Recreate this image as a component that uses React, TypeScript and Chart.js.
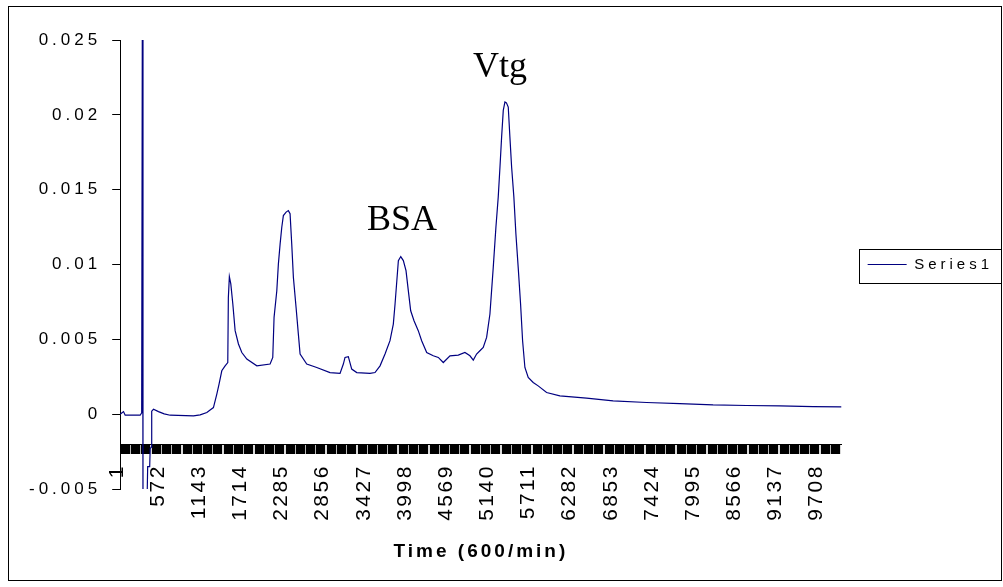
import React, { useEffect, useRef } from 'react';
import { Chart, registerables } from 'chart.js';

Chart.register(...registerables);

// ---- data ----
const timeValues = [
  1, 47, 70, 278, 299, 309, 317, 371, 382, 410, 417, 431, 438, 463, 532, 611, 694, 1017, 1110, 1203,
  1248, 1294, 1341, 1372, 1410, 1456, 1493, 1501, 1515, 1535, 1563, 1595, 1641, 1688, 1757, 1896, 2080, 2117,
  2135, 2173, 2195, 2219, 2242, 2264, 2302, 2333, 2357, 2380, 2403, 2440, 2472, 2496, 2588, 2727, 2911, 3050,
  3096, 3119, 3165, 3212, 3282, 3466, 3535, 3605, 3674, 3743, 3789, 3813, 3859, 3892, 3928, 3965, 3997, 4030,
  4076, 4135, 4182, 4252, 4343, 4413, 4482, 4575, 4690, 4782, 4852, 4898, 4944, 4990, 5036, 5083, 5129, 5175,
  5212, 5244, 5268, 5291, 5314, 5337, 5358, 5383, 5406, 5430, 5461, 5489, 5521, 5554, 5582, 5614, 5660, 5729,
  5798, 5915, 6099, 6469, 6838, 7301, 7763, 8224, 8687, 9148, 9610, 10004,
];
const series1 = [
  0, 0.00017, -0.00007, -0.00007, 0.00009, 0.03, -0.0065, -0.0065, -0.0035, -0.0035, -0.0023, -0.0022, 0.0002,
  0.00033, 0.00017, 0.00002, -0.00007, -0.00011, -0.00005, 0.00011,
  0.00028, 0.00044, 0.00134, 0.002, 0.0029, 0.00323, 0.00345, 0.0078, 0.00919, 0.0087, 0.00736, 0.00558,
  0.00469, 0.00412, 0.00368, 0.00323, 0.00335, 0.00379,
  0.00647, 0.00825, 0.01004, 0.01138, 0.01249, 0.01327, 0.0135, 0.0136, 0.01339, 0.01138, 0.00914, 0.00714,
  0.00535, 0.00402, 0.00335, 0.00312, 0.00278, 0.00272,
  0.00335, 0.00379, 0.00384, 0.00301, 0.00278, 0.00272, 0.00278, 0.00323, 0.00402, 0.00491, 0.00602, 0.00736,
  0.01026, 0.01053, 0.01026, 0.00959, 0.00825, 0.00691,
  0.00624, 0.00558, 0.00491, 0.00412, 0.0039, 0.00379, 0.00345, 0.0039, 0.00395, 0.00412, 0.0039, 0.00361,
  0.00402, 0.00424, 0.00446, 0.00513, 0.00669, 0.00981,
  0.01249, 0.0145, 0.0165, 0.01851, 0.0203, 0.02086, 0.0208, 0.02052, 0.01851, 0.0165, 0.0145, 0.01205,
  0.00981, 0.00736, 0.00491, 0.00312, 0.00245, 0.00212,
  0.00189, 0.00145, 0.00122, 0.00107, 0.00089, 0.00078, 0.00071, 0.00062, 0.00058, 0.00056, 0.00051, 0.00049,
];
const timeTickLabels = [
  '1', '572', '1143', '1714', '2285', '2856', '3427', '3998', '4569', '5140', '5711', '6282', '6853', '7424',
  '7995', '8566', '9137', '9708',
];
const timeTickStep = 571;
const tickMarksPerLabel = 4;
const xMin = 1;
const xMax = 10007;
const yTickValues = [-0.005, 0, 0.005, 0.01, 0.015, 0.02, 0.025];
const yTickLabels = ['-0.005', '0', '0.005', '0.01', '0.015', '0.02', '0.025'];
const xAxisCrossValue = -0.002;
const annotationLabels = ['BSA', 'Vtg'];
const annotationX = [3424, 4894];
const annotationY = [0.0123, 0.0225];
const seriesName = 'Series1';
const axisTitle = 'Time (600/min)';

const SANS = '"Liberation Sans", Arial, sans-serif';
const SERIF = '"Liberation Serif", "Times New Roman", serif';

function buildTimeTicks() {
  const out: { value: number }[] = [];
  const q = timeTickStep / tickMarksPerLabel;
  const count = timeTickLabels.length * tickMarksPerLabel - 2;
  for (let k = 0; k < count; k++) out.push({ value: xMin + (k + 0.5) * q });
  return out;
}

const spacingPlugin = {
  id: 'letterSpacingPlugin',
  beforeUpdate(chart: any) {
    chart.ctx.letterSpacing = '4px';
  },
  beforeLayout(chart: any) {
    const sx: any = chart.scales.x;
    if (sx && !sx.__wrapped) {
      sx.__wrapped = true;
      const ctx = chart.ctx;
      const wrap = (name: string, sp: string) => {
        const orig = sx[name];
        sx[name] = function (...args: any[]) {
          const prev = ctx.letterSpacing;
          ctx.letterSpacing = sp;
          try {
            return orig.apply(this, args);
          } finally {
            ctx.letterSpacing = prev;
          }
        };
      };
      wrap('update', '2.5px');
      wrap('drawLabels', '2.5px');
      wrap('drawTitle', '3px');
    }
  },
  beforeDraw(chart: any) {
    chart.ctx.letterSpacing = '4px';
  },
};

const annotationPlugin = {
  id: 'peakLabels',
  afterDatasetsDraw(chart: any) {
    const { ctx, scales } = chart;
    ctx.save();
    ctx.letterSpacing = '0px';
    ctx.font = `36px ${SERIF}`;
    ctx.fillStyle = '#000';
    ctx.textAlign = 'left';
    ctx.textBaseline = 'alphabetic';
    annotationLabels.forEach((t, i) => {
      ctx.fillText(t, scales.x.getPixelForValue(annotationX[i]), scales.y.getPixelForValue(annotationY[i]));
    });
    ctx.restore();
  },
};

const legendFramePlugin = {
  id: 'legendFrame',
  afterDraw(chart: any) {
    const hb = chart.legend && chart.legend.legendHitBoxes && chart.legend.legendHitBoxes[0];
    if (!hb) return;
    const ctx = chart.ctx;
    ctx.save();
    ctx.strokeStyle = '#000';
    ctx.lineWidth = 1;
    const l = Math.round(hb.left - 9) + 0.5;
    const t = Math.round(hb.top - 8.5) + 0.5;
    const r = chart.width - 1.5;
    const b = Math.round(hb.top + hb.height + 10.5) + 0.5;
    ctx.strokeRect(l, t, r - l, b - t);
    ctx.restore();
  },
};

export default function App() {
  const ref = useRef<HTMLCanvasElement | null>(null);

  useEffect(() => {
    const canvas = ref.current;
    if (!canvas) return;
    const chart = new Chart(canvas, {
      type: 'line',
      data: {
        datasets: [
          {
            label: seriesName,
            data: timeValues.map((x, i) => ({ x, y: series1[i] })),
            borderColor: '#000080',
            backgroundColor: '#000080',
            borderWidth: 1.2,
            pointRadius: 0,
            pointStyle: 'line',
            tension: 0,
            fill: false,
          },
        ],
      },
      options: {
        animation: false,
        responsive: false,
        maintainAspectRatio: false,
        events: [],
        layout: { padding: { left: 18, top: 40, right: 0, bottom: 98 } },
        plugins: {
          legend: {
            position: 'right',
            labels: {
              usePointStyle: true,
              pointStyleWidth: 39,
              padding: 26,
              color: '#000',
              font: { family: SANS, size: 15 },
            },
          },
          tooltip: { enabled: false },
        },
        scales: {
          x: {
            type: 'linear',
            min: xMin,
            max: xMax,
            position: { y: xAxisCrossValue },
            afterBuildTicks: (axis: any) => {
              axis.ticks = buildTimeTicks();
            },
            ticks: {
              autoSkip: false,
              minRotation: 90,
              maxRotation: 90,
              padding: 11,
              labelOffset: -8.6,
              color: '#000',
              font: { family: SANS, size: 21 },
              callback: (_v: any, i: number) =>
                i % tickMarksPerLabel === 0 ? timeTickLabels[i / tickMarksPerLabel] : '',
            },
            grid: {
              drawOnChartArea: false,
              drawTicks: true,
              tickLength: 9,
              tickWidth: 9.3,
              tickColor: '#000',
            },
            border: { display: true, color: '#000', width: 1 },
            title: {
              display: true,
              text: axisTitle,
              color: '#000',
              font: { family: SANS, size: 19, weight: 'bold' },
              padding: { top: 9, bottom: 4 },
            },
          },
          y: {
            type: 'linear',
            min: yTickValues[0],
            max: yTickValues[yTickValues.length - 1],
            afterBuildTicks: (axis: any) => {
              axis.ticks = yTickValues.map((v) => ({ value: v }));
            },
            ticks: {
              padding: 11,
              color: '#000',
              font: { family: SANS, size: 17 },
              callback: (_v: any, i: number) => yTickLabels[i],
            },
            grid: {
              drawOnChartArea: false,
              drawTicks: true,
              tickLength: 8,
              tickColor: '#000',
            },
            border: { display: true, color: '#000', width: 1 },
          },
        },
      } as any,
      plugins: [spacingPlugin, annotationPlugin, legendFramePlugin] as any,
    });
    return () => chart.destroy();
  }, []);

  return (
    <div style={{ position: 'absolute', left: 0, top: 0, width: 1003, height: 587, background: '#fff' }}>
      <canvas ref={ref} width={1003} height={587} style={{ display: 'block', width: 1003, height: 587 }} />
      <div
        style={{
          position: 'absolute',
          left: 8,
          top: 6,
          width: 994,
          height: 575,
          border: '1px solid #000',
          boxSizing: 'border-box',
          pointerEvents: 'none',
        }}
      />
    </div>
  );
}
